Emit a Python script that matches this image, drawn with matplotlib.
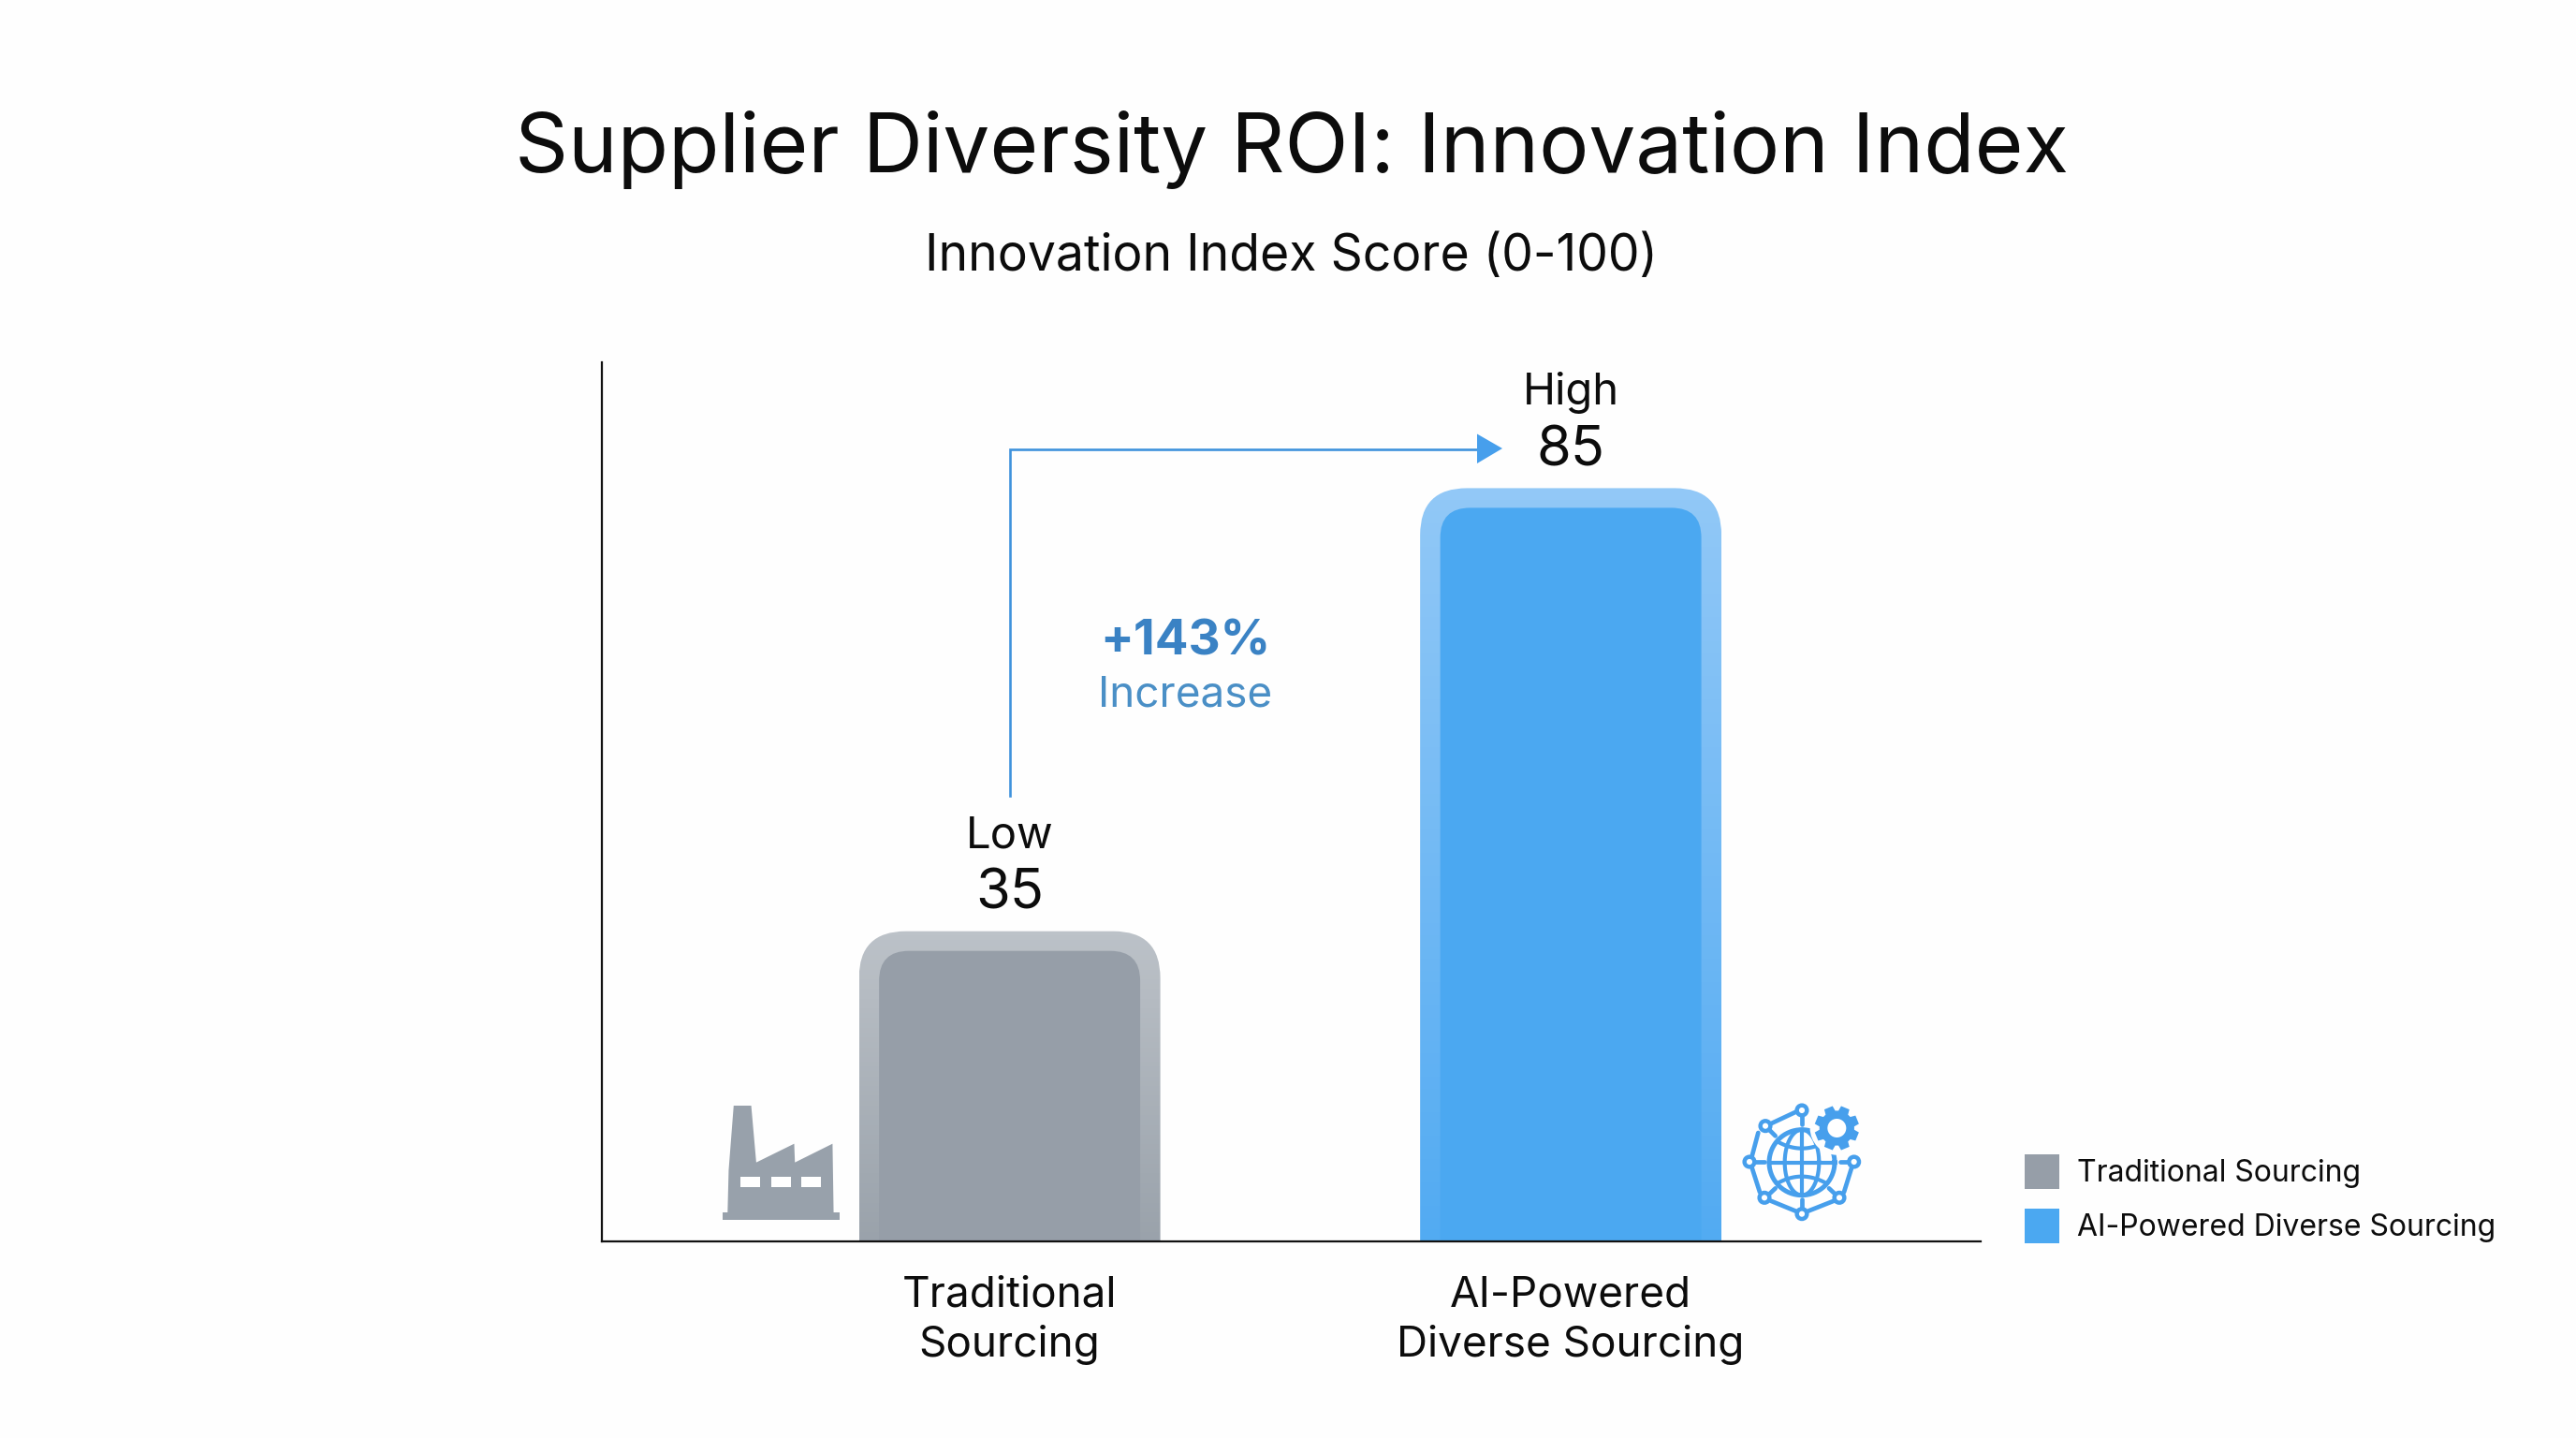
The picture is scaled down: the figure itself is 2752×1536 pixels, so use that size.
import numpy as np
import matplotlib
matplotlib.use('Agg')
import matplotlib.pyplot as plt
from matplotlib.patches import Patch, PathPatch, Polygon, Circle, Rectangle
from matplotlib.path import Path
from matplotlib.colors import LinearSegmentedColormap
from matplotlib.transforms import ScaledTranslation

# data
categories = ['Traditional\nSourcing', 'AI-Powered\nDiverse Sourcing']
legend_labels = ['Traditional Sourcing', 'AI-Powered Diverse Sourcing']
scores = [35, 85]
levels = ['Low', 'High']
title = 'Supplier Diversity ROI: Innovation Index'
subtitle = 'Innovation Index Score (0-100)'
change_pct = '+143%'
change_word = 'Increase'

plt.rcParams['font.family'] = ['Inter', 'DejaVu Sans']
W, H = 2752, 1536
BG = '#fefefe'
TXT = '#0c0c0c'
GRAY, GRAY_TOP, GRAY_BOT = '#969ea8', '#bcc2c8', '#9aa2ab'
BLUE, BLUE_TOP, BLUE_BOT = '#4ba8f1', '#92c8f7', '#52abf2'
ICON_BLUE = '#479fec'

fig = plt.figure(figsize=(W / 100, H / 100), dpi=100, facecolor=BG)
ax = fig.add_axes([643 / W, 1 - 1326 / H, (2116 - 643) / W, (1326 - 387) / H], facecolor='none')
ax.set_xlim(-0.7266, 1.7304)
ax.set_ylim(0, 99.2)
px_x = 599.5
px_y = 939 / 99.2
bar_w = 0.537


def top_round(x, h, w, r_px):
    rx, ry = r_px / px_x, r_px / px_y
    l, rr = x - w / 2, x + w / 2
    verts = [(l, 0), (l, h - ry), (l, h), (l + rx, h), (rr - rx, h), (rr, h), (rr, h - ry), (rr, 0), (l, 0)]
    codes = [Path.MOVETO, Path.LINETO, Path.CURVE3, Path.CURVE3, Path.LINETO, Path.CURVE3, Path.CURVE3,
             Path.LINETO, Path.CLOSEPOLY]
    return Path(verts, codes)


for i, (v, base, top, bot) in enumerate(zip(scores, [GRAY, BLUE], [GRAY_TOP, BLUE_TOP], [GRAY_BOT, BLUE_BOT])):
    outer = PathPatch(top_round(i, v, bar_w, 50), fc='none', ec='none', transform=ax.transData)
    ax.add_patch(outer)
    cm = LinearSegmentedColormap.from_list('b', [bot, top])
    im = ax.imshow(np.linspace(0, 1, 64)[:, None], extent=(i - bar_w / 2, i + bar_w / 2, 0, v), origin='lower',
                   cmap=cm, aspect='auto', zorder=2)
    im.set_clip_path(outer)
    inner = PathPatch(top_round(i, v - 21 / px_y, bar_w - 43 / px_x, 32), fc=base, ec='none', zorder=3)
    ax.add_patch(inner)
    ax.text(i, v, str(v), ha='center', va='baseline', fontsize=43, color=TXT, zorder=5,
            transform=ax.transData + ScaledTranslation(0, 0.24, fig.dpi_scale_trans))
    ax.text(i, v, levels[i], ha='center', va='baseline', fontsize=34, color=TXT, zorder=5,
            transform=ax.transData + ScaledTranslation(0, 0.89, fig.dpi_scale_trans))

ax.set_xlim(-0.7266, 1.7304)
ax.set_ylim(0, 99.2)
for s in ['top', 'right']:
    ax.spines[s].set_visible(False)
for s in ['left', 'bottom']:
    ax.spines[s].set_linewidth(1.6)
    ax.spines[s].set_color('#111111')
    ax.spines[s].set_zorder(6)
ax.set_yticks([])
ax.set_xticks([0, 1])
ax.set_xticklabels(categories, fontsize=33, color=TXT, linespacing=1.33)
ax.tick_params(axis='x', length=0, pad=26)

# elbow arrow from low bar to high bar
ax.plot([0, 0, 0.85], [50.3, 89.4, 89.4], color='#3f92dc', lw=1.9, solid_joinstyle='miter', zorder=4)

fig.text(1380 / W, 1 - 160 / H, title, ha='center', va='center', fontsize=64, color=TXT)
fig.text(1380 / W, 1 - 275 / H, subtitle, ha='center', va='center', fontsize=38.5, color=TXT)
fig.text(1266 / W, 1 - 686 / H, change_pct, ha='center', va='center', fontsize=38, color='#3a82c4', fontweight='bold')
fig.text(1266 / W, 1 - 743 / H, change_word, ha='center', va='center', fontsize=33, color='#4a8fc6')

handles = [Patch(fc=GRAY, ec='none'), Patch(fc=BLUE, ec='none')]
fig.legend(handles, legend_labels, loc='upper left', bbox_to_anchor=(2163 / W, 1 - 1233 / H), frameon=False,
           fontsize=23, labelcolor=TXT, borderpad=0, borderaxespad=0, handlelength=1.157, handleheight=1.4,
           labelspacing=0.66, handletextpad=0.6)

# icons, in picture pixels
ov = fig.add_axes([0, 0, 1, 1], facecolor='none')
ov.set_xlim(0, W)
ov.set_ylim(H, 0)
ov.axis('off')

ov.add_patch(Polygon([(1578, 463.5), (1605, 479), (1578, 495)], fc=ICON_BLUE, ec='none'))


def fx(c):
    return 700 + c * 600 / 1568


def fy(c):
    return 950 + c / 3


factory = [(202, 1035), (205, 900), (219, 693), (268, 693), (282, 875), (388, 815), (390, 875), (495, 815), (498, 1035)]
ov.add_patch(Polygon([(fx(a), fy(b)) for a, b in factory], fc='#98a1ab', ec='none'))
ov.add_patch(Rectangle((fx(187), fy(1035)), fx(515) - fx(187), fy(1058) - fy(1035), fc='#98a1ab', ec='none'))
for a in [237, 323, 408]:
    ov.add_patch(Rectangle((fx(a), fy(921)), fx(a + 55) - fx(a), fy(955) - fy(921), fc='white', ec='none'))


def gx(c):
    return 1800 + c / 3


def gy(c):
    return 1130 + c / 3


def gline(a, b, lw=3.4):
    ov.plot([gx(a[0]), gx(b[0])], [gy(a[1]), gy(b[1])], color=ICON_BLUE, lw=lw, solid_capstyle='round')


t = np.linspace(0, 2 * np.pi, 200)
cx, cy, r = 375, 335, 105
ov.plot(gx(cx + r * np.cos(t)), gy(cy + r * np.sin(t)), color=ICON_BLUE, lw=3.6)
ov.plot(gx(cx + 55 * np.cos(t)), gy(cy + r * np.sin(t)), color=ICON_BLUE, lw=3.0)
gline((cx, cy - r), (cx, cy + r), lw=3.0)
gline((cx - r, cy), (cx + r, cy), lw=3.0)
s = np.linspace(-1, 1, 40)
ov.plot(gx(cx + 75 * s), gy(290 - 20 * s ** 2), color=ICON_BLUE, lw=3.0)
ov.plot(gx(cx + 75 * s), gy(380 + 20 * s ** 2), color=ICON_BLUE, lw=3.0)

gcx, gcy = 487, 225
ov.add_patch(Circle((gx(gcx), gy(gcy)), 86 / 3, fc=BG, ec='none', zorder=3))
ang = np.linspace(0, 2 * np.pi, 8, endpoint=False) + np.pi / 8
teeth = []
for a in ang:
    for d, rad in [(-0.30, 56), (-0.20, 72), (0.20, 72), (0.30, 56)]:
        teeth.append((gx(gcx + rad * np.cos(a + d)), gy(gcy + rad * np.sin(a + d))))
ov.add_patch(Polygon(teeth, fc=ICON_BLUE, ec='none', zorder=4))
ov.add_patch(Circle((gx(gcx), gy(gcy)), 30 / 3, fc='white', ec='none', zorder=5))

nodes = [(375, 168), (258, 218), (207, 333), (255, 448), (375, 500), (495, 448), (542, 333)]
for n in nodes:
    ov.add_patch(Circle((gx(n[0]), gy(n[1])), 16 / 3, fc='white', ec=ICON_BLUE, lw=3.2, zorder=4))
links = [((277, 210), (358, 172)), ((235, 240), (215, 315)), ((215, 352), (240, 430)), ((275, 458), (358, 492)),
         ((392, 492), (478, 458)), ((510, 430), (535, 350)), ((375, 187), (375, 213)), ((272, 232), (290, 250)),
         ((225, 333), (255, 333)), ((272, 435), (290, 418)), ((375, 480), (375, 452)), ((480, 435), (462, 418)),
         ((525, 333), (497, 333))]
for a, b in links:
    gline(a, b)

ov.set_xlim(0, W)
ov.set_ylim(H, 0)
fig.savefig('out.png', dpi=100, facecolor=BG)
